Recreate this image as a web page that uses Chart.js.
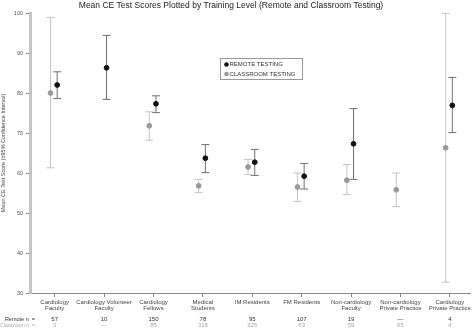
<!DOCTYPE html>
<html>
<head>
<meta charset="utf-8">
<script src="https://cdn.jsdelivr.net/npm/chart.js@4"></script>
<style>
  body { margin: 0; background: #fff; }
</style>
</head>
<body>
<canvas id="ceChart" width="474" height="331"></canvas>
<script>
// Training levels (x axis)
const categories = [
  ["Cardiology", "Faculty"],
  ["Cardiology Volunteer", "Faculty"],
  ["Cardiology", "Fellows"],
  ["Medical", "Students"],
  ["IM Residents"],
  ["FM Residents"],
  ["Non-cardiology", "Faculty"],
  ["Non-cardiology", "Private Practice"],
  ["Cardiology", "Private Practice"],
];

// Remote testing: mean and 95% CI
const remoteMean = [82.0, 86.3, 77.3, 63.7, 62.7, 59.2, 67.3, null, 76.9];
const remoteLow = [78.6, 78.4, 75.1, 60.1, 59.4, 56.0, 58.4, null, 70.1];
const remoteHigh = [85.3, 94.4, 79.3, 67.1, 65.9, 62.4, 76.1, null, 83.9];

// Classroom testing: mean and 95% CI
const classMean = [80.0, null, 71.8, 56.8, 61.5, 56.5, 58.2, 55.8, 66.3];
const classLow = [61.3, null, 68.2, 55.1, 59.6, 52.9, 54.6, 51.6, 32.7];
const classHigh = [98.9, null, 75.3, 58.4, 63.4, 60.0, 62.1, 60.0, 99.9];

// Sample sizes
const remoteN = ["57", "10", "150", "78", "95", "107", "19", "\u2014", "4"];
const classN = ["3", "\u2014", "85", "318", "226", "63", "59", "65", "4"];

const yTicks = [30, 40, 50, 60, 70, 80, 90, 100];

const FONT = "'Liberation Sans', Arial, sans-serif";

function toPoints(means, shift) {
  const pts = [];
  means.forEach((m, i) => {
    if (m !== null) pts.push({ x: i + shift, y: m, idx: i });
  });
  return pts;
}

// error bars drawn under the points
const errorBars = {
  id: "errorBars",
  beforeDatasetsDraw(chart) {
    const ctx = chart.ctx;
    const y = chart.scales.y;
    chart.data.datasets.forEach((ds, di) => {
      const meta = chart.getDatasetMeta(di);
      meta.data.forEach((pt, j) => {
        const i = ds.data[j].idx;
        const lo = y.getPixelForValue(ds.low[i]);
        const hi = y.getPixelForValue(ds.high[i]);
        const x = pt.x;
        ctx.save();
        ctx.strokeStyle = ds.barColor;
        ctx.lineWidth = 1;
        ctx.beginPath();
        ctx.moveTo(x, lo);
        ctx.lineTo(x, hi);
        ctx.moveTo(x - 4, lo);
        ctx.lineTo(x + 4, lo);
        ctx.moveTo(x - 4, hi);
        ctx.lineTo(x + 4, hi);
        ctx.stroke();
        ctx.restore();
      });
    });
  },
};

// title, legend box and n rows
const extras = {
  id: "extras",
  afterDraw(chart) {
    const ctx = chart.ctx;
    const xs = chart.scales.x;
    ctx.save();
    ctx.font = "8.5px " + FONT;
    ctx.fillStyle = "#222";
    ctx.textAlign = "center";
    ctx.textBaseline = "middle";
    ctx.fillText(
      "Mean CE Test Scores Plotted by Training Level (Remote and Classroom Testing)",
      231, 6
    );

    // legend
    ctx.fillStyle = "#fff";
    ctx.fillRect(220.5, 58.5, 82, 21);
    ctx.strokeStyle = "#999";
    ctx.lineWidth = 1;
    ctx.strokeRect(220.5, 58.5, 82, 21);
    ctx.font = "6px " + FONT;
    ctx.textAlign = "left";
    chart.data.datasets.forEach((ds, i) => {
      const ly = 64.5 + i * 9.5;
      ctx.fillStyle = ds.backgroundColor;
      ctx.beginPath();
      ctx.arc(226.5, ly, 2.3, 0, Math.PI * 2);
      ctx.fill();
      ctx.fillStyle = "#333";
      ctx.fillText(ds.label, 229.5, ly + 0.3);
    });

    // n rows
    ctx.font = "5.5px " + FONT;
    ctx.textAlign = "right";
    ctx.fillStyle = "#333";
    ctx.fillText("Remote n  =", 35, 319);
    ctx.fillStyle = "#aaa";
    ctx.fillText("Classroom n  =", 35, 325.5, 35);
    ctx.font = "6px " + FONT;
    ctx.textAlign = "center";
    categories.forEach((c, i) => {
      const px = xs.getPixelForValue(i);
      ctx.fillStyle = "#333";
      ctx.fillText(remoteN[i], px, 319);
      ctx.fillStyle = "#aaa";
      ctx.fillText(classN[i], px, 325.5);
    });
    ctx.restore();
  },
};

const ctx = document.getElementById("ceChart").getContext("2d");
const chart = new Chart(ctx, {
  type: "scatter",
  data: {
    datasets: [
      {
        label: "REMOTE TESTING",
        data: toPoints(remoteMean, 0.05),
        low: remoteLow,
        high: remoteHigh,
        barColor: "#707070",
        backgroundColor: "#111",
        borderColor: "#111",
        pointRadius: 2.4,
        pointHoverRadius: 2.4,
      },
      {
        label: "CLASSROOM TESTING",
        data: toPoints(classMean, -0.085),
        low: classLow,
        high: classHigh,
        barColor: "#c4c4c4",
        backgroundColor: "#999",
        borderColor: "#999",
        pointRadius: 2.4,
        pointHoverRadius: 2.4,
      },
    ],
  },
  options: {
    responsive: false,
    animation: false,
    events: [],
    layout: { padding: { top: 13, right: 0, left: 0, bottom: 0 } },
    plugins: {
      legend: { display: false },
      title: { display: false },
      tooltip: { enabled: false },
    },
    scales: {
      x: {
        type: "linear",
        min: -0.5,
        max: 8.42,
        afterBuildTicks: (scale) => {
          scale.ticks = categories.map((c, i) => ({ value: i }));
        },
        afterFit: (scale) => {
          scale.height = 38;
          scale.paddingLeft = 0;
          scale.paddingRight = 0;
        },
        grid: {
          drawOnChartArea: false,
          tickLength: 4,
          color: "#888",
        },
        border: { color: "#888", width: 1 },
        ticks: {
          autoSkip: false,
          maxRotation: 0,
          padding: 2,
          color: "#444",
          font: { family: FONT, size: 6, lineHeight: 1.08 },
          callback: (value) => categories[value],
        },
      },
      y: {
        min: 30,
        max: 100,
        afterBuildTicks: (scale) => {
          scale.ticks = yTicks.map((v) => ({ value: v }));
        },
        afterFit: (scale) => {
          scale.width = 30;
        },
        grid: {
          drawOnChartArea: false,
          tickLength: 4,
          color: "#888",
        },
        border: { color: "#c4c4c4", width: 3 },
        ticks: {
          padding: 3,
          color: "#555",
          font: { family: FONT, size: 5.5 },
        },
        title: {
          display: true,
          text: "Mean CE Test Score (\u00b195% Confidence Interval)",
          color: "#444",
          font: { family: FONT, size: 5.5, lineHeight: 1.2 },
          padding: { top: 0, bottom: 0 },
        },
      },
    },
  },
  plugins: [errorBars, extras],
});
</script>
</body>
</html>
